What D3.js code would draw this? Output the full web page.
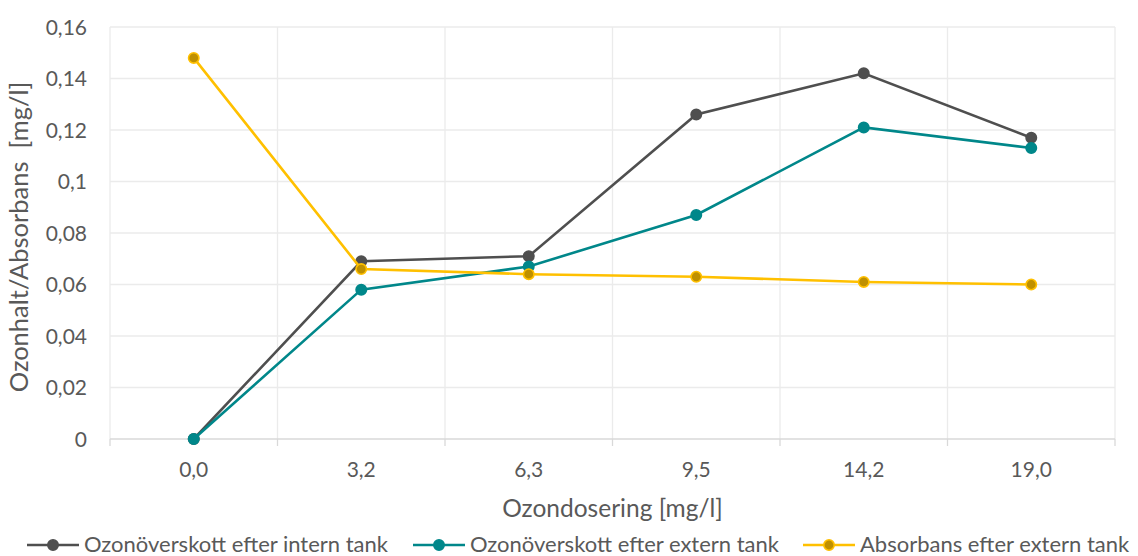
<!DOCTYPE html>
<html>
<head>
<meta charset="utf-8">
<script src="https://cdn.jsdelivr.net/npm/d3@7"></script>
<style>
  body { margin: 0; background: #fff; }
  text { font-family: Lato, "Open Sans", sans-serif; fill: #595959; }
</style>
</head>
<body>
<div id="chart"></div>
<script>
const categories = ["0,0", "3,2", "6,3", "9,5", "14,2", "19,0"];
const internTank = [0, 0.069, 0.071, 0.126, 0.142, 0.117];
const externTank = [0, 0.058, 0.067, 0.087, 0.121, 0.113];
const absorbans = [0.148, 0.066, 0.064, 0.063, 0.061, 0.060];
const yTicks = [0, 0.02, 0.04, 0.06, 0.08, 0.1, 0.12, 0.14, 0.16];
const seriesNames = ["Ozonöverskott efter intern tank", "Ozonöverskott efter extern tank", "Absorbans efter extern tank"];

const width = 1138, height = 556;
const margin = {left: 110, right: 23, top: 27, bottom: 117};

const svg = d3.select('#chart').append('svg')
    .attr('width', width)
    .attr('height', height);

const x = d3.scaleBand().domain(categories).range([margin.left, width - margin.right]);
const y = d3.scaleLinear().domain([0, 0.16]).range([height - margin.bottom, margin.top]);

// gridlines
svg.append('g').selectAll('line.h')
    .data(yTicks.slice(1))
    .enter().append('line')
    .attr('x1', margin.left).attr('x2', width - margin.right)
    .attr('y1', d => y(d)).attr('y2', d => y(d))
    .attr('stroke', '#ebebeb').attr('stroke-width', 1.3);

let bounds = categories.map(c => x(c)).concat([width - margin.right]);
svg.append('g').selectAll('line.v')
    .data(bounds)
    .enter().append('line')
    .attr('x1', d => d).attr('x2', d => d)
    .attr('y1', margin.top).attr('y2', y(0))
    .attr('stroke', '#ebebeb').attr('stroke-width', 1.3);

// x axis
const xAxis = svg.append('g')
    .attr('transform', `translate(0,${y(0)})`);
xAxis.append('line')
    .attr('x1', margin.left).attr('x2', width - margin.right)
    .attr('stroke', '#d9d9d9').attr('stroke-width', 1.3);
xAxis.selectAll('line.tick')
    .data(bounds)
    .enter().append('line')
    .attr('x1', d => d).attr('x2', d => d)
    .attr('y1', 0).attr('y2', 7)
    .attr('stroke', '#d9d9d9').attr('stroke-width', 1.3);
xAxis.selectAll('text')
    .data(categories)
    .enter().append('text')
    .attr('x', d => x(d) + x.bandwidth() / 2)
    .attr('y', 38)
    .attr('text-anchor', 'middle')
    .style('font-size', '21px')
    .text(d => d);

// y axis labels
svg.append('g').selectAll('text')
    .data(yTicks)
    .enter().append('text')
    .attr('x', 87)
    .attr('y', d => y(d) + 7.5)
    .attr('text-anchor', 'end')
    .style('font-size', '21px')
    .text(d => d === 0 ? "0" : String(+d.toFixed(2)).replace('.', ','));

// titles
svg.append('text')
    .attr('x', (margin.left + width - margin.right) / 2)
    .attr('y', 517)
    .attr('text-anchor', 'middle')
    .style('font-size', '24.5px')
    .text('Ozondosering [mg/l]');

svg.append('text')
    .attr('transform', `translate(28,237) rotate(-90)`)
    .attr('text-anchor', 'middle')
    .attr('xml:space', 'preserve')
    .style('font-size', '25.5px')
    .style('white-space', 'pre')
    .text('Ozonhalt/Absorbans  [mg/l]');

// series
const series = [
    {name: seriesNames[0], values: internTank, line: '#4f4f4f', fill: '#4f4f4f', stroke: '#4f4f4f'},
    {name: seriesNames[1], values: externTank, line: '#00878a', fill: '#00878a', stroke: '#00878a'},
    {name: seriesNames[2], values: absorbans, line: '#ffc000', fill: '#bf9000', stroke: '#ffc000'}
];

const lineGenerator = d3.line()
    .x((d, i) => x(categories[i]) + x.bandwidth() / 2)
    .y(d => y(d));

series.forEach(s => {
    const g = svg.append('g');
    g.append('path')
        .attr('d', lineGenerator(s.values))
        .attr('fill', 'none')
        .attr('stroke', s.line)
        .attr('stroke-width', 2.6);
    g.selectAll('circle')
        .data(s.values)
        .enter().append('circle')
        .attr('cx', (d, i) => x(categories[i]) + x.bandwidth() / 2)
        .attr('cy', d => y(d))
        .attr('r', 5.2)
        .attr('fill', s.fill)
        .attr('stroke', s.stroke)
        .attr('stroke-width', 1.6);
});

// legend
const legendX = [27, 413, 803];
series.forEach((s, i) => {
    const g = svg.append('g').attr('transform', `translate(${legendX[i]},545)`);
    g.append('line').attr('x1', 0).attr('x2', 52)
        .attr('stroke', s.line).attr('stroke-width', 2.6);
    g.append('circle').attr('cx', 26).attr('r', 5.2)
        .attr('fill', s.fill).attr('stroke', s.stroke).attr('stroke-width', 1.6);
    g.append('text').attr('x', 57).attr('y', 6.5)
        .style('font-size', '22px')
        .text(s.name);
});
</script>
</body>
</html>
